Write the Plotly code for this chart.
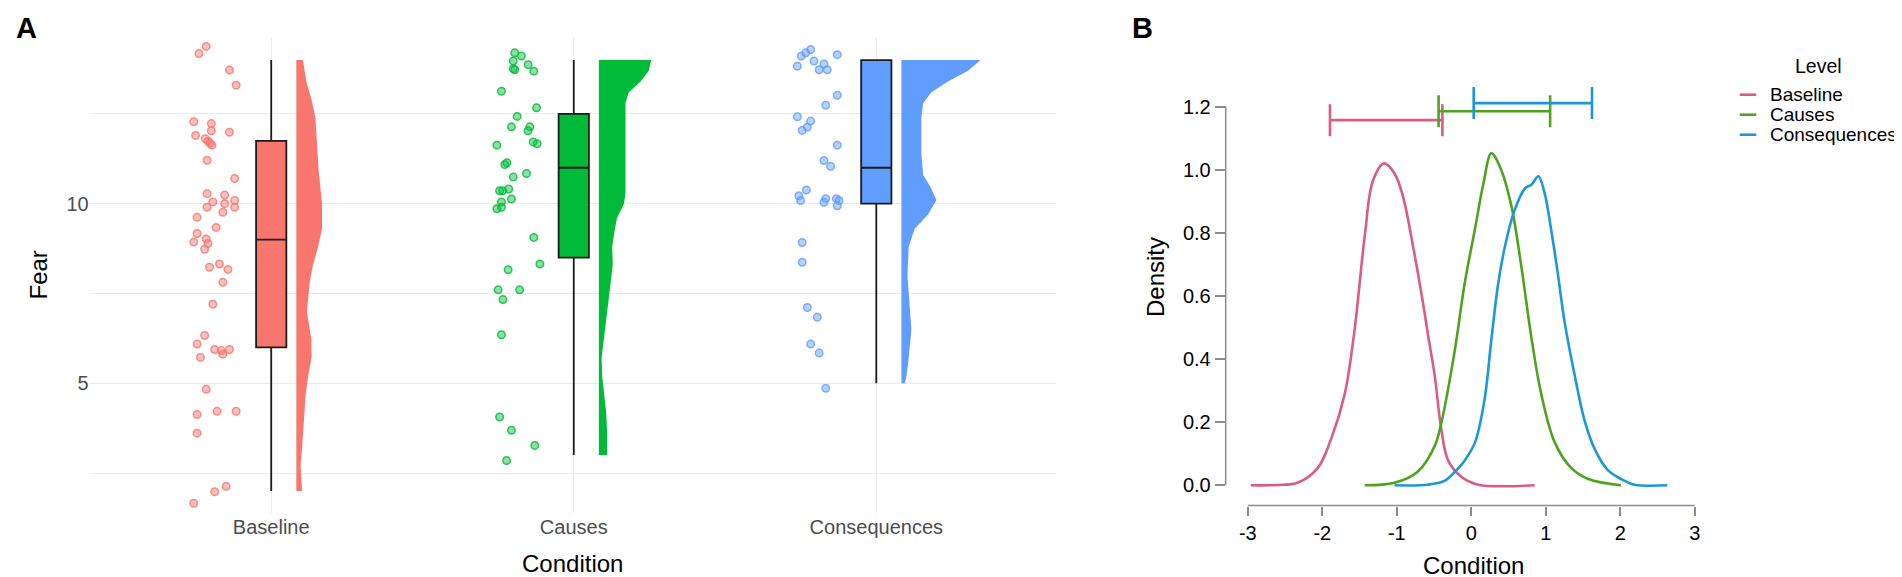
import plotly.graph_objects as go

W, H = 1902, 577

# ---- panel A data -------------------------------------------------------
conditions = ["Baseline", "Causes", "Consequences"]
cond_colors = ["#F8766D", "#00BA38", "#619CFF"]
cond_point_fill = ["rgba(248,118,109,0.45)", "rgba(0,186,56,0.45)", "rgba(97,156,255,0.45)"]
cond_point_line = ["rgba(248,118,109,0.8)", "rgba(0,186,56,0.8)", "rgba(97,156,255,0.8)"]

# jittered raw scores: horizontal offset from the category, fear value
baseline_dx = [-0.215, -0.239, -0.138, -0.116, -0.256, -0.198, -0.198, -0.138, -0.250, -0.218,
               -0.209, -0.202, -0.196, -0.212, -0.121, -0.212, -0.154, -0.193, -0.121, -0.154,
               -0.212, -0.121, -0.160, -0.245, -0.182, -0.245, -0.215, -0.256, -0.209, -0.220,
               -0.204, -0.171, -0.143, -0.160, -0.193, -0.220, -0.245, -0.187, -0.165, -0.138,
               -0.234, -0.160, -0.215, -0.245, -0.179, -0.116, -0.245, -0.187, -0.149, -0.256]
baseline_fear = [14.38, 14.18, 13.72, 13.30, 12.28, 12.23, 12.03, 11.99, 11.90, 11.81,
                 11.74, 11.68, 11.63, 11.21, 10.70, 10.28, 10.24, 10.05, 10.09, 10.00,
                 9.90, 9.90, 9.76, 9.62, 9.34, 9.17, 9.02, 8.93, 8.89, 8.73,
                 8.23, 8.32, 8.17, 7.81, 7.20, 6.33, 6.09, 5.94, 5.91, 5.94,
                 5.72, 5.81, 4.83, 4.13, 4.22, 4.22, 3.61, 1.98, 2.13, 1.66]

causes_dx = [-0.195, -0.173, -0.200, -0.151, -0.200, -0.195, -0.132, -0.239, -0.123, -0.187,
             -0.206, -0.145, -0.151, -0.254, -0.134, -0.121, -0.228, -0.221, -0.200, -0.156,
             -0.245, -0.235, -0.215, -0.206, -0.239, -0.254, -0.239, -0.132, -0.112, -0.217,
             -0.250, -0.179, -0.234, -0.239, -0.245, -0.206, -0.129, -0.222]
causes_fear = [14.20, 14.11, 13.97, 13.87, 13.76, 13.73, 13.69, 13.13, 12.67, 12.43,
               12.14, 12.14, 12.03, 11.63, 11.72, 11.67, 11.09, 11.14, 10.74, 10.84,
               10.36, 10.36, 10.41, 10.13, 10.05, 9.86, 9.90, 9.06, 8.32, 8.16,
               7.60, 7.60, 7.33, 6.35, 4.06, 3.69, 3.27, 2.85]

conseq_dx = [-0.217, -0.233, -0.248, -0.129, -0.206, -0.261, -0.173, -0.189, -0.162, -0.129,
             -0.167, -0.261, -0.217, -0.228, -0.245, -0.129, -0.173, -0.151, -0.231, -0.256,
             -0.250, -0.167, -0.173, -0.132, -0.123, -0.129, -0.245, -0.245, -0.228, -0.195,
             -0.217, -0.189, -0.167]
conseq_fear = [14.29, 14.20, 14.11, 14.15, 13.97, 13.83, 13.89, 13.73, 13.73, 13.02,
               12.74, 12.42, 12.30, 12.13, 12.04, 11.63, 11.20, 11.04, 10.38, 10.22,
               10.09, 10.14, 10.04, 10.14, 10.09, 9.94, 8.92, 8.37, 7.11, 6.84,
               6.09, 5.84, 4.86]

# box statistics: lower whisker, Q1, median, Q3, upper whisker
box_low = [2.0, 3.0, 5.0]
box_q1 = [6.0, 8.5, 10.0]
box_med = [9.0, 11.0, 11.0]
box_q3 = [11.75, 12.5, 14.0]
box_high = [14.0, 14.0, 14.0]

# half-violin profiles (fear value, half width in category units)
baseline_dens_y = [14.0, 13.4, 12.9, 12.4, 11.7, 10.9, 10.0, 9.3, 8.8, 8.3, 7.8,
                   7.0, 6.2, 5.7, 5.2, 4.7, 4.2, 3.7, 3.2, 2.7, 2.15, 2.0]
baseline_dens_w = [0.022, 0.033, 0.050, 0.063, 0.068, 0.074, 0.085, 0.085, 0.072, 0.055, 0.044,
                   0.035, 0.050, 0.050, 0.039, 0.031, 0.027, 0.024, 0.019, 0.014, 0.019, 0.019]
causes_dens_y = [14.0, 13.7, 13.4, 13.1, 12.8, 11.4, 10.3, 10.0, 9.6, 9.3, 8.8,
                 8.3, 7.8, 7.3, 6.7, 6.2, 5.7, 5.2, 4.7, 4.2, 3.7, 3.0]
causes_dens_w = [0.173, 0.165, 0.138, 0.099, 0.088, 0.088, 0.088, 0.083, 0.060, 0.053, 0.044,
                 0.046, 0.039, 0.030, 0.022, 0.017, 0.009, 0.011, 0.017, 0.024, 0.027, 0.027]
conseq_dens_y = [14.0, 13.7, 13.4, 13.1, 12.8, 12.4, 11.4, 10.8, 10.5, 10.1,
                 9.7, 9.3, 8.8, 8.0, 7.3, 6.5, 5.7, 5.2, 5.0]
conseq_dens_w = [0.262, 0.220, 0.154, 0.099, 0.072, 0.066, 0.066, 0.072, 0.094, 0.116,
                 0.088, 0.044, 0.024, 0.020, 0.027, 0.033, 0.024, 0.017, 0.011]

# ---- panel B data -------------------------------------------------------
levels = ["Baseline", "Causes", "Consequences"]
level_colors = ["#DB5B82", "#4FA21E", "#1C98DA"]

baseline_x = [-2.96, -2.6, -2.33, -2.06, -1.88, -1.70, -1.57, -1.43, -1.32, -1.17, -1.03,
              -0.92, -0.78, -0.65, -0.58, -0.49, -0.41, -0.31, -0.13, 0.09, 0.85]
baseline_dens = [0.0, 0.001, 0.008, 0.055, 0.148, 0.288, 0.486, 0.790, 0.965, 1.020, 0.988,
                 0.918, 0.755, 0.580, 0.475, 0.346, 0.190, 0.078, 0.026, 0.002, 0.0]
causes_x = [-1.43, -1.03, -0.72, -0.49, -0.40, -0.22, -0.09, 0.05, 0.16, 0.27, 0.40,
            0.54, 0.67, 0.81, 0.94, 1.12, 1.34, 1.57, 2.01]
causes_dens = [0.0, 0.008, 0.043, 0.125, 0.20, 0.43, 0.638, 0.813, 0.953, 1.052, 1.0,
               0.883, 0.696, 0.463, 0.288, 0.136, 0.055, 0.020, 0.0]
conseq_x = [-1.03, -0.58, -0.36, -0.22, -0.09, 0.05, 0.18, 0.27, 0.36, 0.45, 0.58, 0.72,
            0.81, 0.90, 0.98, 1.07, 1.16, 1.25, 1.39, 1.52, 1.66, 1.83, 2.01, 2.19, 2.63]
conseq_dens = [0.0, 0.002, 0.014, 0.043, 0.078, 0.136, 0.275, 0.463, 0.638, 0.755, 0.871, 0.941,
               0.953, 0.979, 0.930, 0.813, 0.673, 0.521, 0.346, 0.206, 0.113, 0.049, 0.020, 0.002, 0.0]

# credible intervals drawn above the curves
ci_low = [-1.897, -0.439, 0.032]
ci_high = [-0.388, 1.058, 1.620]
ci_height = [1.157, 1.185, 1.211]


def px_x(px):
    return px / W


def px_y(px):
    return 1 - px / H


FONT = "Liberation Sans, Arial, sans-serif"
GRID = "#EBEBEB"
AXIS_GREY = "#8C8C8C"

fig = go.Figure()

# ---- panel A ------------------------------------------------------------
points = [(baseline_dx, baseline_fear), (causes_dx, causes_fear), (conseq_dx, conseq_fear)]
violins = [(baseline_dens_y, baseline_dens_w), (causes_dens_y, causes_dens_w),
           (conseq_dens_y, conseq_dens_w)]
VIOLIN_NUDGE = 0.083

for i, name in enumerate(conditions):
    pos = i + 1
    dens_y, dens_w = violins[i]
    base = pos + VIOLIN_NUDGE
    vx = [base] + [base + w for w in dens_w] + [base]
    vy = [dens_y[0]] + dens_y + [dens_y[-1]]
    fig.add_trace(go.Scatter(
        x=vx, y=vy, mode="lines", fill="toself", fillcolor=cond_colors[i],
        line=dict(width=0, color=cond_colors[i]), showlegend=False, hoverinfo="skip",
        xaxis="x", yaxis="y",
    ))

    dx, fear = points[i]
    fig.add_trace(go.Scatter(
        x=[pos + d for d in dx], y=fear, mode="markers",
        marker=dict(size=7.5, color=cond_point_fill[i],
                    line=dict(width=1.5, color=cond_point_line[i])),
        showlegend=False, xaxis="x", yaxis="y",
    ))

    fig.add_trace(go.Box(
        x=[pos], q1=[box_q1[i]], median=[box_med[i]], q3=[box_q3[i]],
        lowerfence=[box_low[i]], upperfence=[box_high[i]],
        width=0.1, whiskerwidth=0, fillcolor=cond_colors[i],
        line=dict(color="#1A1A1A", width=1.8), boxpoints=False,
        showlegend=False, xaxis="x", yaxis="y",
    ))

# ---- panel B ------------------------------------------------------------
curves = [(baseline_x, baseline_dens), (causes_x, causes_dens), (conseq_x, conseq_dens)]
for i, name in enumerate(levels):
    cx, cy = curves[i]
    fig.add_trace(go.Scatter(
        x=cx, y=cy, mode="lines", line=dict(color=level_colors[i], width=2.6, shape="spline"),
        name=name, showlegend=False, xaxis="x2", yaxis="y2",
    ))
    mid = (ci_low[i] + ci_high[i]) / 2
    half = (ci_high[i] - ci_low[i]) / 2
    fig.add_trace(go.Scatter(
        x=[mid], y=[ci_height[i]], mode="markers",
        marker=dict(size=1, color="rgba(0,0,0,0)"),
        error_x=dict(type="data", array=[half], symmetric=True, color=level_colors[i],
                     thickness=2.6, width=16),
        showlegend=False, hoverinfo="skip", xaxis="x2", yaxis="y2",
    ))

# pixel geometry of panel B: x = 0 at 1463.3 px, 74.5 px per unit;
# y = 0 at 477.3 px, 315.6 px per unit
BX0, BXS = 1463.3, 74.5
BY0, BYS = 477.3, 315.6
b_left, b_right, b_top, b_bottom = 1217.7, 1700.0, 60.0, 497.5

b_xticks = [-3, -2, -1, 0, 1, 2, 3]
b_yticks = [0.0, 0.2, 0.4, 0.6, 0.8, 1.0, 1.2]

fig.update_layout(
    width=W, height=H,
    margin=dict(l=0, r=0, t=0, b=0),
    paper_bgcolor="white", plot_bgcolor="white",
    font=dict(family=FONT, size=20, color="black"),
    xaxis=dict(
        domain=[px_x(81.7), px_x(1047.7)], range=[0.4, 3.593],
        tickvals=[1, 2, 3], ticktext=conditions,
        tickfont=dict(size=20, color="#4D4D4D"),
        showgrid=True, gridcolor=GRID, gridwidth=1.3,
        zeroline=False, showline=False, ticks="", anchor="y",
    ),
    yaxis=dict(
        domain=[px_y(504.9), px_y(29.4)], range=[1.39, 14.63],
        tickvals=[5, 10], tickfont=dict(size=20, color="#4D4D4D"),
        showgrid=True, gridcolor=GRID, gridwidth=1.3,
        minor=dict(tickvals=[2.5, 7.5, 12.5], showgrid=True, gridcolor=GRID, gridwidth=1.3),
        zeroline=False, showline=False, ticks="", anchor="x",
    ),
    xaxis2=dict(
        domain=[px_x(b_left), px_x(b_right)],
        range=[(b_left - BX0) / BXS, (b_right - BX0) / BXS],
        tickvals=b_xticks, ticktext=[str(v) for v in b_xticks],
        ticks="outside", ticklen=9, tickwidth=1.5, tickcolor=AXIS_GREY,
        showgrid=False, zeroline=False, showline=False, anchor="y2",
        tickfont=dict(size=20, color="black"),
    ),
    yaxis2=dict(
        domain=[px_y(b_bottom), px_y(b_top)],
        range=[(BY0 - b_bottom) / BYS, (BY0 - b_top) / BYS],
        tickvals=b_yticks, ticktext=[f"{v:.1f}" for v in b_yticks],
        ticks="outside", ticklen=10, tickwidth=1.5, tickcolor=AXIS_GREY,
        showgrid=False, zeroline=False, showline=False, anchor="x2",
        tickfont=dict(size=20, color="black"),
    ),
)

shapes = [
    dict(type="line", xref="x2", yref="y2 domain", x0=-3, x1=3, y0=0, y1=0,
         line=dict(color=AXIS_GREY, width=1.5)),
    dict(type="line", xref="x2 domain", yref="y2", x0=0, x1=0, y0=0, y1=1.2,
         line=dict(color=AXIS_GREY, width=1.5)),
]

annotations = [
    dict(text="<b>A</b>", x=px_x(6), y=px_y(20), xanchor="left", yanchor="middle",
         font=dict(size=29, color="black")),
    dict(text="<b>B</b>", x=px_x(1122), y=px_y(20), xanchor="left", yanchor="middle",
         font=dict(size=29, color="black")),
    dict(text="Condition", x=px_x(564), y=px_y(555), xanchor="center", yanchor="middle",
         font=dict(size=24, color="black")),
    dict(text="Fear", x=px_x(29.5), y=px_y(267), xanchor="center", yanchor="middle",
         textangle=-90, font=dict(size=24, color="black")),
    dict(text="Condition", x=px_x(1465), y=px_y(557), xanchor="center", yanchor="middle",
         font=dict(size=24, color="black")),
    dict(text="Density", x=px_x(1147), y=px_y(269), xanchor="center", yanchor="middle",
         textangle=-90, font=dict(size=24, color="black")),
    dict(text="Level", x=px_x(1810), y=px_y(58.3), xanchor="center", yanchor="middle",
         font=dict(size=19.5, color="black")),
]

legend_rows = [86.7, 106.7, 126.7]
for i, name in enumerate(levels):
    shapes.append(dict(type="line", xref="paper", yref="paper",
                       x0=px_x(1731.7), x1=px_x(1748.3),
                       y0=px_y(legend_rows[i]), y1=px_y(legend_rows[i]),
                       line=dict(color=level_colors[i], width=2.6)))
    annotations.append(dict(text=name, x=px_x(1760), y=px_y(legend_rows[i]),
                            xanchor="left", yanchor="middle",
                            font=dict(size=19, color="black")))

for a in annotations:
    a.update(xref="paper", yref="paper", showarrow=False)

fig.update_layout(shapes=shapes, annotations=annotations)

fig.write_html("out.html")
